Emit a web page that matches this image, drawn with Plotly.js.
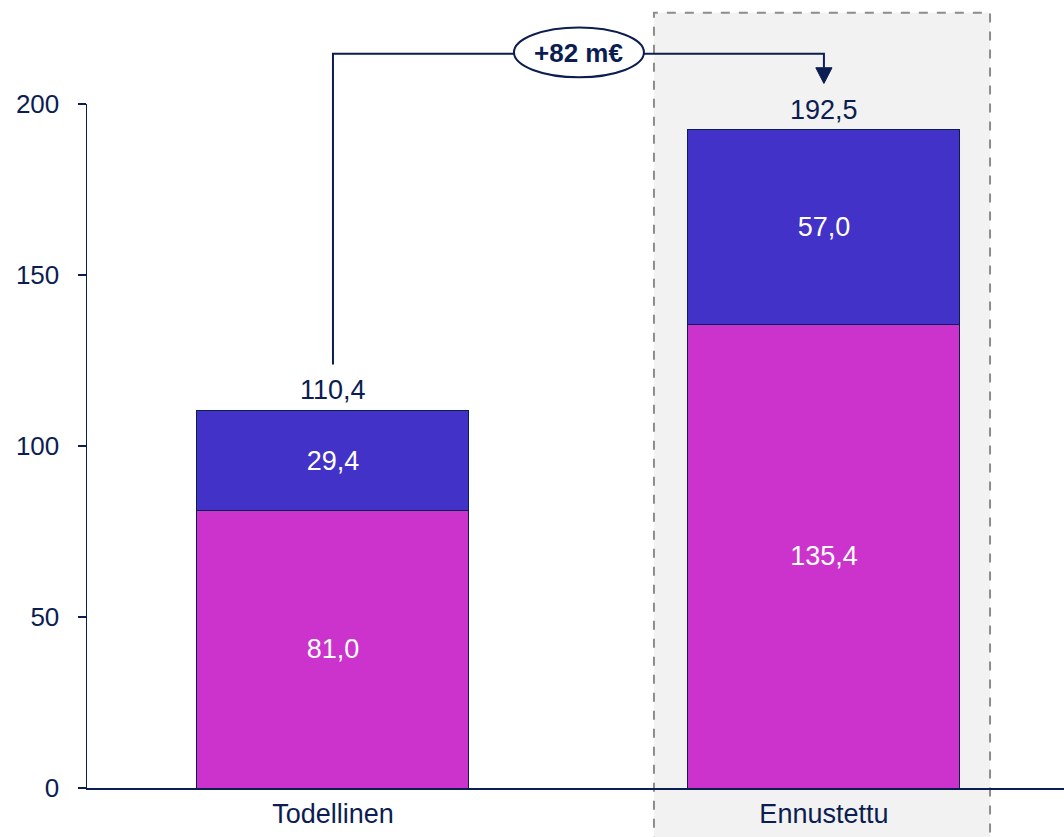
<!DOCTYPE html>
<html>
<head>
<meta charset="utf-8">
<script src="https://cdn.plot.ly/plotly-3.0.1.min.js"></script>
<style>html,body{margin:0;padding:0;background:#fff;}#chart{width:1064px;height:837px;}</style>
</head>
<body>
<div id="chart"></div>
<script>
// ---- data ----
const categories = ["Todellinen", "Ennustettu"];
const lowerValues = [81.0, 135.4];   // magenta segment
const upperValues = [29.4, 57.0];    // blue segment
const totals = [110.4, 192.5];
const yTicks = [0, 50, 100, 150, 200];

// ---- styles ----
const navy = "#0b1d51";
const fontFam = "Liberation Sans, Arial, sans-serif";
const yMax = 200;
const toPaper = v => v / yMax;

const traces = [
  {
    type: "bar", x: categories, y: lowerValues, name: "lower",
    marker: {color: "#cc33cc", line: {color: navy, width: 1}},
    width: 0.554,
    texttemplate: "%{y:.1f}", textposition: "inside", insidetextanchor: "middle",
    textfont: {color: "#ffffff", size: 27, family: fontFam},
    constraintext: "none", hoverinfo: "skip"
  },
  {
    type: "bar", x: categories, y: upperValues, name: "upper",
    marker: {color: "#4232c8", line: {color: navy, width: 1}},
    width: 0.554,
    texttemplate: "%{y:.1f}", textposition: "inside", insidetextanchor: "middle",
    textfont: {color: "#ffffff", size: 27, family: fontFam},
    constraintext: "none", hoverinfo: "skip"
  }
];

const fmt = v => v.toFixed(1).replace(".", ",");
const delta = Math.round(totals[1] - totals[0]);

const annotations = totals.map((t, i) => ({
  x: categories[i], y: t, xref: "x", yref: "y",
  text: fmt(t), showarrow: false, yanchor: "bottom", yshift: 3,
  font: {size: 27, color: navy, family: fontFam}
}));
annotations.push({
  x: 0.501, y: 1.075, xref: "x", yref: "paper",
  text: "<b>+" + delta + " m€</b>", showarrow: false,
  xanchor: "center", yanchor: "middle",
  font: {size: 26, color: navy, family: fontFam}
});

const leftStart = toPaper(totals[0] + 13.4);
const bridgeY = toPaper(214.7);
const arrowTop = toPaper(210.6);
const arrowTip = toPaper(206.0);
const hw = 0.0165;

const shapes = [
  {type: "rect", xref: "paper", yref: "paper", x0: 0.5803, x1: 0.9243, y0: -0.1, y1: 1.1335,
   fillcolor: "#f2f2f2", line: {color: "#8c8c8c", width: 2, dash: "dash"}, layer: "below"},
  {type: "path", xref: "x", yref: "paper",
   path: `M 0 ${leftStart} L 0 ${bridgeY} L 1 ${bridgeY} L 1 ${arrowTop}`,
   line: {color: navy, width: 2}},
  {type: "path", xref: "x", yref: "paper",
   path: `M ${1 - hw} ${arrowTop} L ${1 + hw} ${arrowTop} L 1 ${arrowTip} Z`,
   fillcolor: navy, line: {color: navy, width: 1}},
  {type: "circle", xref: "x", yref: "paper", x0: 0.3687, x1: 0.6334, y0: 1.039, y1: 1.112,
   fillcolor: "#ffffff", line: {color: navy, width: 2}}
];

const layout = {
  width: 1064, height: 837,
  margin: {l: 87, r: 0, t: 104, b: 49},
  paper_bgcolor: "#ffffff", plot_bgcolor: "rgba(0,0,0,0)",
  barmode: "stack", showlegend: false, hovermode: false,
  separators: ", ",
  font: {family: fontFam, color: navy, size: 27},
  xaxis: {
    type: "category", range: [-0.501, 1.489],
    showline: true, linecolor: navy, linewidth: 1.5,
    ticks: "", showgrid: false, zeroline: false,
    tickfont: {size: 27, color: navy, family: fontFam},
    ticklabelstandoff: 1
  },
  yaxis: {
    range: [0, yMax], tickvals: yTicks,
    showline: true, linecolor: navy, linewidth: 1.5,
    ticks: "outside", ticklen: 8, tickwidth: 1.5, tickcolor: navy,
    showgrid: false, zeroline: false,
    tickfont: {size: 26, color: navy, family: fontFam},
    ticklabelstandoff: 13
  },
  shapes: shapes,
  annotations: annotations
};

Plotly.newPlot("chart", traces, layout, {displayModeBar: false, staticPlot: true});
</script>
</body>
</html>
